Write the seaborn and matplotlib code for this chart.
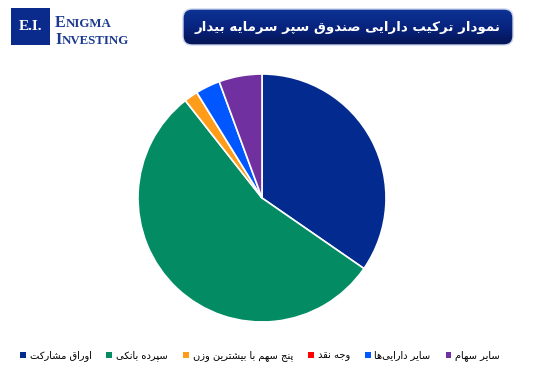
import matplotlib
matplotlib.use("Agg")
import matplotlib.pyplot as plt
import seaborn as sns
import numpy as np
from matplotlib.patches import FancyBboxPatch, Rectangle, Patch

# ---------------- data ----------------
categories = ["اوراق مشارکت", "سپرده بانکی", "پنج سهم با بیشترین وزن",
              "وجه نقد", "سایر دارایی‌ها", "سایر سهام"]
values = [34.6, 54.7, 1.8, 0.0, 3.2, 5.6]
colors = ["#032b8f", "#038c64", "#ff9c1a", "#ff0000", "#0057ff", "#7030a0"]
title_text = "نمودار ترکیب دارایی صندوق سپر سرمایه بیدار"

# ---------------- simple Persian shaper ----------------
FORMS = {
    '\u0627': (0xFE8D, 0xFE8E, None, None),
    '\u0622': (0xFE81, 0xFE82, None, None),
    '\u0628': (0xFE8F, 0xFE90, 0xFE91, 0xFE92),
    '\u067E': (0xFB56, 0xFB57, 0xFB58, 0xFB59),
    '\u062A': (0xFE95, 0xFE96, 0xFE97, 0xFE98),
    '\u062B': (0xFE99, 0xFE9A, 0xFE9B, 0xFE9C),
    '\u062C': (0xFE9D, 0xFE9E, 0xFE9F, 0xFEA0),
    '\u0686': (0xFB7A, 0xFB7B, 0xFB7C, 0xFB7D),
    '\u062D': (0xFEA1, 0xFEA2, 0xFEA3, 0xFEA4),
    '\u062E': (0xFEA5, 0xFEA6, 0xFEA7, 0xFEA8),
    '\u062F': (0xFEA9, 0xFEAA, None, None),
    '\u0630': (0xFEAB, 0xFEAC, None, None),
    '\u0631': (0xFEAD, 0xFEAE, None, None),
    '\u0632': (0xFEAF, 0xFEB0, None, None),
    '\u0698': (0xFB8A, 0xFB8B, None, None),
    '\u0633': (0xFEB1, 0xFEB2, 0xFEB3, 0xFEB4),
    '\u0634': (0xFEB5, 0xFEB6, 0xFEB7, 0xFEB8),
    '\u0635': (0xFEB9, 0xFEBA, 0xFEBB, 0xFEBC),
    '\u0636': (0xFEBD, 0xFEBE, 0xFEBF, 0xFEC0),
    '\u0637': (0xFEC1, 0xFEC2, 0xFEC3, 0xFEC4),
    '\u0638': (0xFEC5, 0xFEC6, 0xFEC7, 0xFEC8),
    '\u0639': (0xFEC9, 0xFECA, 0xFECB, 0xFECC),
    '\u063A': (0xFECD, 0xFECE, 0xFECF, 0xFED0),
    '\u0641': (0xFED1, 0xFED2, 0xFED3, 0xFED4),
    '\u0642': (0xFED5, 0xFED6, 0xFED7, 0xFED8),
    '\u06A9': (0xFB8E, 0xFB8F, 0xFB90, 0xFB91),
    '\u06AF': (0xFB92, 0xFB93, 0xFB94, 0xFB95),
    '\u0644': (0xFEDD, 0xFEDE, 0xFEDF, 0xFEE0),
    '\u0645': (0xFEE1, 0xFEE2, 0xFEE3, 0xFEE4),
    '\u0646': (0xFEE5, 0xFEE6, 0xFEE7, 0xFEE8),
    '\u0648': (0xFEED, 0xFEEE, None, None),
    '\u0647': (0xFEE9, 0xFEEA, 0xFEEB, 0xFEEC),
    '\u06CC': (0xFBFC, 0xFBFD, 0xFBFE, 0xFBFF),
}


def dual(c):
    return c in FORMS and FORMS[c][2] is not None


def shape(s):
    out = []
    n = len(s)
    for i, c in enumerate(s):
        if c not in FORMS:
            if c != '\u200c':
                out.append(c)
            continue
        prev = s[i - 1] if i > 0 else ''
        nxt = s[i + 1] if i + 1 < n else ''
        cp = dual(prev)
        cn = dual(c) and (nxt in FORMS)
        iso, fin, ini, med = FORMS[c]
        if cp and cn:
            g = med
        elif cp:
            g = fin
        elif cn:
            g = ini
        else:
            g = iso
        out.append(chr(g))
    return ''.join(out[::-1])


# ---------------- figure ----------------
sns.set_theme(style="white")
plt.rcParams['font.family'] = ['DejaVu Sans']
plt.rcParams['text.color'] = 'black'
W, H = 533, 382
fig = plt.figure(figsize=(W / 100, H / 100), dpi=100)
fig.patch.set_facecolor("white")


def fx(px):
    return px / W


def fy(py):
    return 1 - py / H


# pie axes
cx, cy, r = 262, 198, 124
ax = fig.add_axes([fx(cx - r), fy(cy + r), 2 * r / W, 2 * r / H])
ax.pie(values, colors=colors, startangle=90, counterclock=False,
       wedgeprops=dict(edgecolor="white", linewidth=1.2))
ax.set_xlim(-1.0, 1.0)
ax.set_ylim(-1.0, 1.0)
ax.set_aspect("auto")
ax.axis("off")

# overlay axes in pixel coordinates
ov = fig.add_axes([0, 0, 1, 1], zorder=5)
ov.set_xlim(0, W)
ov.set_ylim(H, 0)
ov.axis("off")

# logo
ov.add_patch(Rectangle((11, 8), 39, 37, facecolor="#0a2a8c", edgecolor="none"))
ov.text(30.5, 27, "E.I.", color="white", fontsize=11, fontweight="bold",
        family="Liberation Serif", ha="center", va="center")
navy = "#1b3a8f"
ov.text(55, 27, "E", color=navy, fontsize=11.5, fontweight="bold",
        family="Liberation Serif", ha="left", va="baseline")
ov.text(66, 27, "NIGMA", color=navy, fontsize=9.3, fontweight="bold",
        family="Liberation Serif", ha="left", va="baseline")
ov.text(55, 43.5, "I", color=navy, fontsize=11.5, fontweight="bold",
        family="Liberation Serif", ha="left", va="baseline")
ov.text(61.5, 43.5, "NVESTING", color=navy, fontsize=9.3, fontweight="bold",
        family="Liberation Serif", ha="left", va="baseline")

# title box with gradient
bx0, by0, bw, bh = 183, 9, 330, 36
box = FancyBboxPatch((bx0, by0), bw, bh,
                     boxstyle="round,pad=0,rounding_size=9",
                     facecolor="none", edgecolor="#c9d3ee", linewidth=1.0, zorder=3)
ov.add_patch(box)
grad = np.linspace(0, 1, 64).reshape(-1, 1)
top = np.array([0.05, 0.20, 0.58])
mid = np.array([0.03, 0.14, 0.50])
bot = np.array([0.02, 0.08, 0.33])
g = np.where(grad < 0.5, 1 - grad * 2, 0)[..., None] * top + \
    (1 - np.abs(grad - 0.5) * 2)[..., None] * mid + \
    np.where(grad > 0.5, grad * 2 - 1, 0)[..., None] * bot
img = ov.imshow(g, extent=(bx0, bx0 + bw, by0 + bh, by0), aspect="auto", zorder=2)
clip = FancyBboxPatch((bx0, by0), bw, bh, boxstyle="round,pad=0,rounding_size=9",
                      transform=ov.transData, facecolor="none", edgecolor="none")
ov.add_patch(clip)
img.set_clip_path(clip)
ov.set_xlim(0, W)
ov.set_ylim(H, 0)
ov.text(bx0 + bw / 2, 27, shape(title_text), color="white", fontsize=9.6,
        fontweight="bold", ha="center", va="center", zorder=4)

# legend
handles = [Patch(facecolor=c, edgecolor="none") for c in colors]
labels = [shape(c) for c in categories]
leg = fig.legend(handles, labels, loc="center", bbox_to_anchor=(fx(260), fy(356)),
                 ncol=6, frameon=False, fontsize=7.1, handlelength=0.6,
                 handleheight=0.6, handletextpad=0.4, columnspacing=1.5,
                 borderaxespad=0)
for t in leg.get_texts():
    t.set_color("black")

fig.savefig("out.png", dpi=100, facecolor="white")
